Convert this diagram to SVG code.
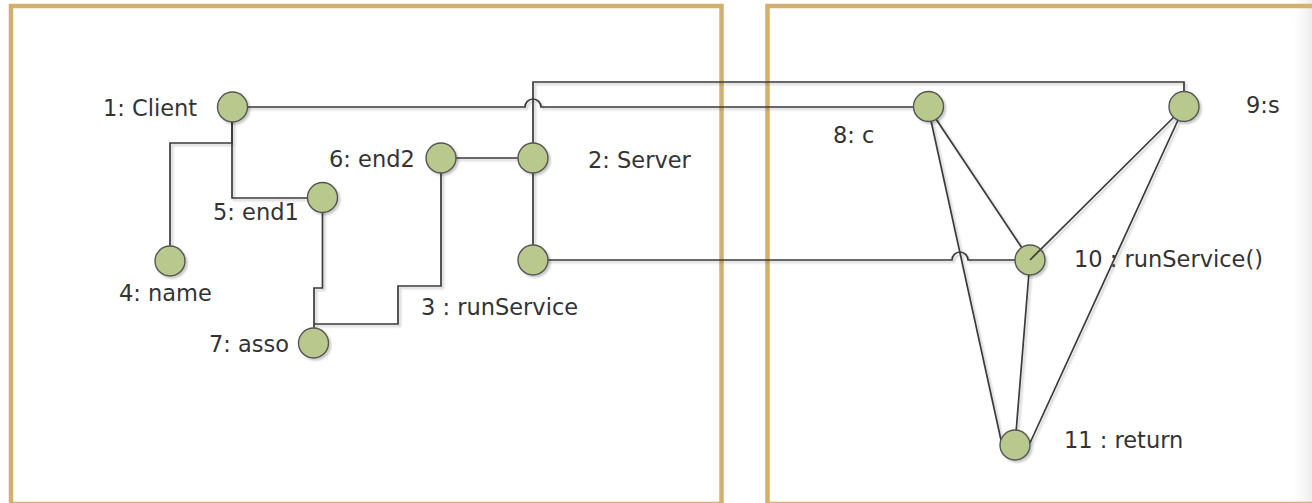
<svg xmlns="http://www.w3.org/2000/svg" width="1312" height="503" viewBox="0 0 1312 503">
<defs>
<filter id="sh" x="-20%" y="-20%" width="140%" height="140%">
<feDropShadow dx="2" dy="2" stdDeviation="1" flood-color="#000" flood-opacity="0.22"/>
</filter>
<linearGradient id="edge" x1="0" y1="0" x2="1" y2="0">
<stop offset="0" stop-color="#fff" stop-opacity="0"/>
<stop offset="1" stop-color="#ececec"/>
</linearGradient>
</defs>
<style>
.frame{fill:none;stroke:#D4B06F;stroke-width:4.5}
.c{fill:none;stroke:#3a3a3a;stroke-width:1.7}
.n{fill:#B9C98D;stroke:#555;stroke-width:1.4}
.t{font-family:"DejaVu Sans",sans-serif;font-size:22.5px;fill:#333}
</style>
<rect width="1312" height="503" fill="#fff"/>
<rect x="1288" y="0" width="24" height="503" fill="url(#edge)"/>
<rect class="frame" x="11" y="6" width="710.5" height="498"/>
<rect class="frame" x="767.5" y="6" width="600" height="498"/>
<g id="connectors" filter="url(#sh)">
<path class="c" d="M232,107 H525 A8,8 0 0 1 541,107 H928"/>
<path class="c" d="M533,158 V82 H1184 V107"/>
<path class="c" d="M232,107 V143 H170 V261"/>
<path class="c" d="M232,107 V198 H322"/>
<path class="c" d="M322.5,197 V288 H314 V343"/>
<path class="c" d="M314,324 H398 V286 H441 V158"/>
<path class="c" d="M441,158 H533"/>
<path class="c" d="M533,158 V260"/>
<path class="c" d="M533,260 H952 A8,8 0 0 1 968,260 H1030"/>
<path class="c" d="M928,107 L1001,440"/>
<path class="c" d="M928,107 L1030,260"/>
<path class="c" d="M1184,107 L1030,260"/>
<path class="c" d="M1184,107 L1030,443"/>
<path class="c" d="M1030,260 L1015,445"/>
</g>
<g id="node1" filter="url(#sh)"><circle class="n" cx="232.5" cy="107" r="15"/></g>
<g id="node2" filter="url(#sh)"><circle class="n" cx="533" cy="158" r="15"/></g>
<g id="node3" filter="url(#sh)"><circle class="n" cx="533" cy="260" r="15"/></g>
<g id="node4" filter="url(#sh)"><circle class="n" cx="170" cy="261" r="15"/></g>
<g id="node5" filter="url(#sh)"><circle class="n" cx="322.5" cy="197.5" r="15"/></g>
<g id="node6" filter="url(#sh)"><circle class="n" cx="441" cy="158" r="15"/></g>
<g id="node7" filter="url(#sh)"><circle class="n" cx="313.5" cy="343" r="15"/></g>
<g id="node8" filter="url(#sh)"><circle class="n" cx="928.5" cy="106.5" r="15"/></g>
<g id="node9" filter="url(#sh)"><circle class="n" cx="1184" cy="106.5" r="15"/></g>
<g id="node10" filter="url(#sh)"><circle class="n" cx="1030" cy="260" r="15"/>
<path class="c" d="M1030,260 L1040.6,249.4"/></g>
<g id="node11" filter="url(#sh)"><circle class="n" cx="1015" cy="445" r="15"/></g>
<g id="labels">
<text class="t" x="103" y="116">1: Client</text>
<text class="t" x="588" y="168">2: Server</text>
<text class="t" x="421" y="315">3 : runService</text>
<text class="t" x="119" y="301">4: name</text>
<text class="t" x="213" y="220">5: end1</text>
<text class="t" x="329" y="167">6: end2</text>
<text class="t" x="209" y="352">7: asso</text>
<text class="t" x="833" y="143">8: c</text>
<text class="t" x="1246" y="113">9:s</text>
<text class="t" x="1074" y="267">10 : runService()</text>
<text class="t" x="1064" y="448">11 : return</text>
</g>
</svg>
